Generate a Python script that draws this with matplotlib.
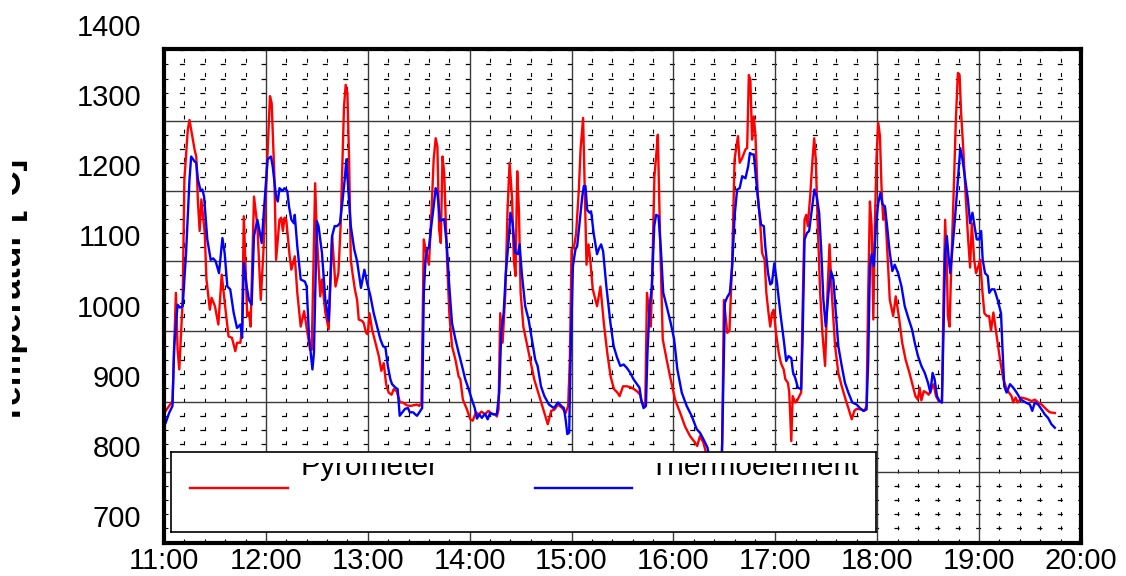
import numpy as np
import matplotlib.pyplot as plt
from matplotlib.patches import Rectangle
from matplotlib.ticker import FixedLocator
from matplotlib.transforms import offset_copy

plt.rcParams['font.family'] = ['Liberation Sans', 'DejaVu Sans']
plt.rcParams['lines.scale_dashes'] = False

# (minutes after 11:00, temperature in degC)
pyrometer = [
    (0, 848), (1, 851), (3, 858), (5, 865), (7, 1019), (8, 938), (9, 910), (11, 1009), (12, 1180),
    (14, 1251), (15, 1265), (16, 1251), (18, 1223), (19, 1213), (20, 1147), (21, 1107), (22, 1152),
    (24, 1104), (25, 1038), (27, 995), (28, 1012), (30, 1000), (32, 974), (34, 1045), (36, 1000),
    (38, 957), (40, 955), (42, 936), (43, 948), (45, 948), (46, 971), (47, 1128), (49, 986), (50, 991),
    (51, 971), (53, 1156), (55, 1114), (57, 1009), (58.5, 1076), (60.5, 1190), (62.4, 1299),
    (63.4, 1289), (65, 1185), (66, 1066), (68, 1123), (69, 1126), (70, 1107), (71, 1126), (72, 1123),
    (74, 1071), (75, 1052), (77, 1071), (78.5, 1019), (80.5, 971), (82.5, 993), (84.5, 962), (86, 938),
    (87, 938), (89, 1175), (90, 1100), (92, 1014), (93, 1038), (95, 991), (97, 967), (99, 1100),
    (101, 1028), (102.7, 1047), (104, 1114), (106, 1284), (107, 1315), (108, 1303),
    (109, 1209), (110, 1066), (111, 1047), (112.4, 1024), (113.7, 1009), (114.7, 981), (116.7, 979),
    (117.6, 976), (119, 962), (120, 960), (121, 990), (122.5, 967), (124.5, 948), (126.5, 929),
    (128, 908), (129.4, 919), (130.8, 889), (132.3, 877), (134, 874), (135.3, 882), (137, 879),
    (139, 863), (140.6, 863), (143, 859), (145, 858), (147, 859), (149, 860), (150.4, 858),
    (151.6, 863), (153, 1095), (154, 1081), (156, 1059), (157.4, 1128), (158.8, 1209), (160, 1239),
    (161, 1227), (162, 1109), (163, 1090), (164, 1213), (165, 1190), (166.7, 1066), (168, 990),
    (169.6, 943), (171.6, 924), (173.5, 900), (174.5, 896), (176, 867), (178.4, 853), (180.4, 839),
    (181.8, 837), (183.7, 849), (185.3, 846), (187, 850), (189, 846), (191, 851), (193, 847),
    (195, 846), (196, 843), (197, 853), (198, 990), (199.4, 948), (201, 1019), (202.3, 1137),
    (203.5, 1204), (205, 1152), (206, 1066), (207, 1043), (208, 1192), (209, 1137), (210, 1019),
    (211.6, 971), (214, 943), (216, 919), (218, 896),
    (221, 872), (224, 848), (226, 832), (228, 851), (230, 853), (232, 860), (234.5, 855), (236.5, 848),
    (238, 858), (239, 924), (240, 1081), (241.4, 1083), (242.7, 1104), (244.3, 1166), (245.3, 1223),
    (246.8, 1268), (247.8, 1161), (248.8, 1059), (250, 1088), (251, 1066), (252.5, 1024), (255, 1000),
    (257, 1028), (259, 976), (261, 934), (263, 900), (265, 882), (267, 877), (268.3, 872), (270.3, 886),
    (272.6, 886), (275.5, 884), (278.5, 879), (280.4, 874), (281.4, 863), (282.4, 860), (283.4, 858),
    (284.4, 1019), (285.3, 1000), (286.7, 971), (287.7, 1066), (288.8, 1185), (289.8, 1213),
    (290.8, 1244), (292.2, 1090), (293.7, 953), (296, 924), (298, 900), (301, 867), (304, 848),
    (306.8, 829), (309.8, 815), (312.7, 806), (314, 801), (315.6, 815), (317.6, 806), (321, 775),
    (325, 755), (328.5, 765),
    (329.7, 1009), (331.7, 962), (333, 965), (334.6, 1066), (336, 1209), (338, 1242), (339, 1204),
    (340.5, 1211), (342.4, 1223), (343.4, 1225), (344.4, 1329), (345.3, 1322), (346.3, 1237),
    (347.3, 1270), (348.3, 1242), (349.6, 1161), (351.2, 1114), (352.2, 1076), (353.7, 1066),
    (354.7, 1019), (356, 990), (357, 971), (358, 990), (359, 995), (360.4, 962), (362, 934),
    (363.3, 919), (364.9, 910), (365.9, 896), (367.4, 891), (368.2, 877), (369.4, 808), (370.2, 872),
    (371.7, 863), (372.7, 865), (373.7, 870), (375.2, 877), (376, 990), (377.2, 1123), (378.2, 1130),
    (379.1, 1114), (380.5, 1156), (381.9, 1209), (382.9, 1239), (383.8, 1209), (385, 1114),
    (386.4, 1019), (387.7, 962), (389.3, 915), (390.7, 1019), (391.9, 1088), (393.2, 1019),
    (395.2, 943), (397.1, 905), (399.1, 886), (401.4, 867), (403, 855), (405, 839), (406.5, 851),
    (407.9, 854), (410.8, 853), (412.4, 851), (413.7, 858), (414.7, 1019), (415.7, 1149),
    (416.7, 1114), (417.7, 981), (418.6, 1114), (419.6, 1213), (420.6, 1261), (421.6, 1242),
    (422.5, 1171), (423.5, 1123), (424.5, 1142), (425.8, 1085), (427.4, 1009), (429.4, 986),
    (430.9, 1014),
    (432.7, 986), (434.7, 948), (436.7, 924), (439, 905), (440.5, 891), (442.5, 872), (443.9, 867),
    (445, 884), (446, 866), (447.4, 879), (449, 877), (450.3, 874), (451.9, 882), (453.2, 889),
    (454.6, 872), (456.2, 865), (458.1, 863), (459.1, 1019), (460, 1123), (461, 1057), (461.6, 986),
    (462.6, 971), (463.6, 1057), (465, 1161), (466.3, 1265), (467.5, 1332), (468.5, 1329),
    (469.4, 1275), (470.8, 1218), (472.2, 1152), (473.4, 1100), (474.7, 1055), (475.7, 1118),
    (477.1, 1066), (478.2, 1047), (479.6, 1057), (480.6, 1066), (482, 1019), (483.1, 990),
    (484.5, 986), (485.9, 986), (487, 965), (488.4, 991), (490.4, 957), (492.3, 924), (494.3, 896),
    (496.2, 882), (497.6, 877), (499.1, 872), (500.1, 863), (501.5, 870), (502.7, 863), (505, 870),
    (508, 868), (510.9, 865), (512.8, 867), (514.8, 863), (516.8, 860), (519.7, 853), (521.6, 849),
    (524.6, 848),
]

thermoelement = [
    (0, 830), (1, 834), (3, 848), (5, 858), (6, 943), (8, 1002), (9.4, 998), (11, 1000), (13, 1076),
    (15, 1180), (16, 1213), (18, 1206), (19, 1204), (20, 1180), (21.6, 1164), (22.6, 1166),
    (23.6, 1156), (25.5, 1095), (27.5, 1066), (29, 1068), (30.4, 1064), (32.4, 1047), (34.4, 1097),
    (35.7, 1076), (37.3, 1028), (39, 1024), (41, 991), (43, 969), (45, 974), (46, 955), (47, 1062),
    (48.7, 1028), (50, 1009), (51.6, 1002), (53, 1100), (55, 1123), (56.5, 1104), (57.5, 1090),
    (59.3, 1152), (61, 1209), (63, 1213), (64, 1199), (66, 1156), (67, 1149), (68, 1168),
    (69.7, 1164), (71, 1168), (72.6, 1164), (73.6, 1142), (75, 1123), (76.5, 1118), (77, 1130),
    (78.5, 1085), (80.5, 1038), (83, 1035), (84, 1028), (85.4, 957), (87.4, 910), (88.3, 934),
    (90, 1121), (91, 1114), (93, 1076), (95, 1009), (97, 979), (99, 1100), (100.5, 1114),
    (102, 1114), (103.6, 1118), (105, 1147), (106.4, 1180), (107.4, 1209),
    (108.4, 1171), (110, 1114), (112, 1081), (113.7, 1064), (114.7, 1047), (116, 1026), (118, 1052),
    (119.6, 1033), (121.6, 1014), (123.5, 990), (125.5, 971), (127.4, 953), (129, 943), (130.4, 941),
    (131.8, 915), (133.3, 896), (134.3, 889), (136.3, 884), (137.6, 882), (138.2, 863), (138.8, 844),
    (140, 848), (142, 854), (143.7, 855), (144.7, 849), (146.7, 849), (148, 846), (149, 844),
    (150.4, 849), (152, 855), (153, 1019), (154, 1066), (155, 1081), (156, 1083), (157.4, 1114),
    (158.8, 1142), (160, 1168), (161, 1161), (162.6, 1121), (164, 1123), (165, 1124), (166.6, 1085),
    (168, 1028), (169.6, 976), (171.6, 953), (173.5, 934), (175.5, 915), (177.4, 896), (179.4, 882),
    (181.3, 867), (183, 855), (184.3, 840), (185.7, 846), (187.2, 841), (189, 847), (190.6, 839),
    (192, 848), (194, 846), (196, 846), (197.4, 877), (198.6, 962), (200, 990), (201.3, 1047),
    (203, 1095), (204, 1133), (205.3, 1118), (206.8, 1076), (208.4, 1074), (209.4, 1088),
    (210.7, 1047), (212.7, 1000), (214.7, 981), (216.6, 953), (218.6, 924),
    (220, 915), (222, 886), (224, 872), (226.7, 860), (229.6, 855), (232, 863), (234, 858),
    (235.5, 855), (236.5, 839), (237.5, 818), (238.6, 820), (239.4, 924), (240.8, 1057),
    (242.3, 1081), (243.3, 1085), (244.9, 1123), (246.3, 1156), (247.2, 1171), (248.2, 1171),
    (249.2, 1137), (250.6, 1133), (251.5, 1135), (253, 1104), (255, 1074), (256, 1081), (257.4, 1088),
    (258.6, 1078), (260.5, 1028), (262.9, 976), (264.8, 943), (266.8, 927), (268.7, 915),
    (270.7, 917), (272.6, 912), (274.6, 905), (276.5, 896), (278.5, 889), (280, 884), (281, 867),
    (282.4, 855), (283.8, 858), (284.7, 934), (286, 1000), (287.3, 1028), (288.7, 1114),
    (289.8, 1130), (291.2, 1128), (292.6, 1081), (294, 1019), (296, 1000), (298.4, 976),
    (300.4, 953), (302.3, 910), (304.9, 877), (307.8, 858), (310.7, 844), (313.7, 825), (315.6, 820),
    (317.6, 811), (320, 799), (323, 765), (326, 745), (328, 760),
    (328.7, 806), (330.3, 1005), (331.7, 1013), (333.2, 1019), (334.6, 1057), (336, 1128),
    (337.5, 1166), (339, 1168), (340.5, 1185), (342.4, 1182), (344, 1199), (345, 1218), (346.3, 1216),
    (347.3, 1216), (348.7, 1180), (350.2, 1142), (351.6, 1116), (353.2, 1114), (354.1, 1085),
    (355.7, 1047), (357, 1031), (358, 1033), (359.4, 1061), (361, 1033), (362.9, 991), (364.9, 953),
    (366.4, 922), (367.8, 929), (369.4, 926), (370.4, 906), (371.7, 898), (373.3, 884), (375.2, 882),
    (376, 948), (377.2, 1095), (378.6, 1104), (379.9, 1107), (381.5, 1137), (383, 1166),
    (384.4, 1156), (385.8, 1133), (387, 1081), (388.3, 1009), (389.7, 971), (391.3, 1019),
    (392.8, 1050), (394.2, 1038), (395.6, 991), (397.1, 943), (399.1, 915), (401, 891), (403, 877),
    (405.3, 863), (407.9, 860), (409.8, 855), (411.8, 851), (413.7, 853), (414.7, 924),
    (415.7, 1057), (416.7, 1074), (418, 1057), (419.2, 1114), (420.6, 1147), (421.9, 1161),
    (423.1, 1145), (424.5, 1142), (425.8, 1114), (427.4, 1076), (428.9, 1050), (430.3, 1059),
    (432.3, 1047), (434.3, 1028), (436.2, 1000), (438.6, 981), (440.5, 967), (442.1, 948), (444, 929),
    (446, 915), (448, 905), (449.9, 891), (451.3, 877), (452.6, 905), (453.8, 896), (455.2, 872),
    (456.6, 865), (458.1, 863), (459.1, 971), (460, 1076), (461, 1100), (462, 1071), (463, 1047),
    (464.4, 1085), (465.9, 1128), (467.5, 1180), (468.9, 1225), (470.2, 1209), (471.8, 1180),
    (473.4, 1152), (474.7, 1118), (476.1, 1133), (477.3, 1114), (478.6, 1095), (480, 1095),
    (481.2, 1107), (482.1, 1066), (483.5, 1047), (485.1, 1043), (486, 1019), (487.4, 1024),
    (489, 1024), (490.9, 1009), (492.9, 990), (493.7, 943), (494.8, 886), (496.2, 877), (498.2, 889),
    (500.1, 884), (502.1, 877), (504.6, 867), (507.4, 863), (509.9, 860), (511.3, 851), (512.8, 863),
    (514.8, 860), (516.8, 853), (518.7, 846), (520.6, 841), (522.6, 832), (524.6, 827),
]

hours = list(range(11, 21))
hour_labels = ['%d:00' % h for h in hours]
temp_labels = list(range(700, 1401, 100))
grid_temps = [764, 864, 964, 1064, 1164, 1264]

fig = plt.figure(figsize=(11.26, 5.76), dpi=100)
ax = fig.add_axes([164 / 1126, 33 / 576, 917 / 1126, 494 / 576])
ax.set_xlim(11, 20)
ax.set_ylim(663, 1366)

minor_y = [y for y in np.arange(684, 1366, 20) if y not in grid_temps]
minor_x = [x for x in np.arange(11.2, 20, 0.2) if abs(x - round(x)) > 0.01]

# broken minor grid: short dashes at the minor grid crossings
for y in minor_y:
    ax.axhline(y, color='black', lw=0.9, ls=(3.6, (3.6, 11.1)), zorder=1)
for x in minor_x:
    ax.axvline(x, color='black', lw=0.8, ls=(0.7, (2.9, 7.3)), zorder=1)

# major grid
for y in grid_temps:
    ax.axhline(y, color='#3a3a3a', lw=1.0, zorder=1.5)
for h in hours[1:-1]:
    ax.axvline(h, color='#3a3a3a', lw=1.0, zorder=1.5)

rx, ry = zip(*pyrometer)
bx, by = zip(*thermoelement)
ax.plot(11 + np.array(rx) / 60, ry, color='#ff0000', lw=1.7, zorder=3)
ax.plot(11 + np.array(bx) / 60, by, color='#0000ff', lw=1.7, zorder=3)

for s in ax.spines.values():
    s.set_linewidth(3)
    s.set_color('black')
    s.set_zorder(5)

ax.set_xticks(hours)
ax.set_xticklabels(hour_labels, fontsize=21)
ax.set_yticks([])
ax.xaxis.set_minor_locator(FixedLocator(minor_x))
ax.yaxis.set_minor_locator(FixedLocator(minor_y))
ax.tick_params(axis='x', which='major', length=0, pad=3)
ax.tick_params(which='minor', direction='in', length=3, width=0.8)

lab_tr = offset_copy(ax.get_yaxis_transform(), fig=fig, x=0, y=-7.5, units='points')
for t in temp_labels:
    ax.text(-0.025, t, str(t), transform=lab_tr, ha='right', va='baseline',
            fontsize=21, clip_on=False)

ylab = fig.text(21 / 1126, 1 - 291 / 576, 'Temperatur [°C]', rotation=90,
                rotation_mode='anchor', ha='center', va='baseline',
                fontsize=25.5, fontweight='bold')
ylab.set_clip_path(Rectangle((12 / 1126, 0), 1, 1, transform=fig.transFigure))
ylab.set_clip_on(True)

# legend box
leg = fig.add_axes([171 / 1126, 1 - 532 / 576, 705 / 1126, 80 / 576])
leg.set_xlim(0, 1)
leg.set_ylim(0, 1)
leg.set_xticks([])
leg.set_yticks([])
leg.set_facecolor('white')
for s in leg.spines.values():
    s.set_linewidth(1.2)
leg.plot([0.027, 0.166], [0.55, 0.55], color='#ff0000', lw=1.7)
leg.plot([0.516, 0.654], [0.55, 0.55], color='#0000ff', lw=1.7)
clip = Rectangle((0, 0), 1, 0.86, transform=leg.transAxes)
for xpos, name in [(0.281, 'Pyrometer'), (0.827, 'Thermoelement')]:
    t = leg.text(xpos, 0.7125, name, ha='center', va='baseline', fontsize=21.5)
    t.set_clip_path(clip)
    t.set_clip_on(True)

fig.savefig('out.png', dpi=100)
